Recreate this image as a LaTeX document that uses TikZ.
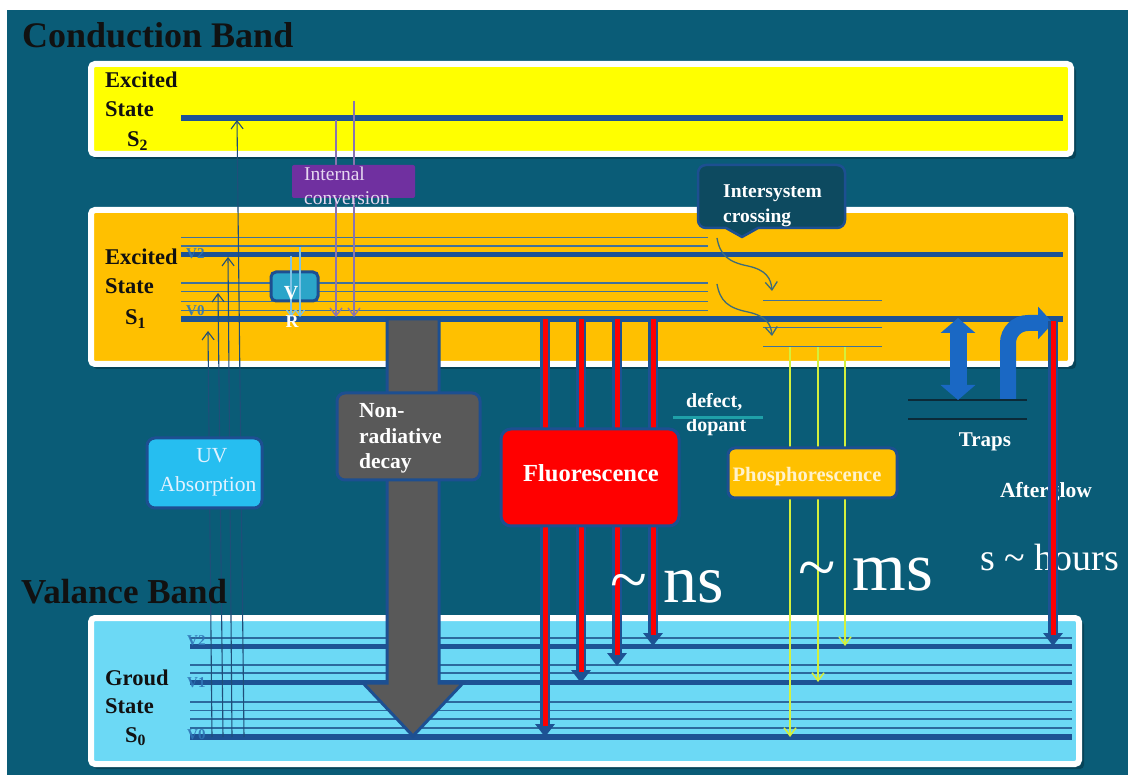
\documentclass[tikz,border=0pt]{standalone}
\usepackage{fontspec}
\setmainfont{Liberation Serif}
\usetikzlibrary{arrows.meta}
\definecolor{bg}{HTML}{0A5C77}
\definecolor{yel}{HTML}{FFFF00}
\definecolor{org}{HTML}{FFC000}
\definecolor{cyn}{HTML}{6CD9F5}
\definecolor{lvlc}{HTML}{1D5294}
\definecolor{subAc}{HTML}{41729A}
\definecolor{subBc}{HTML}{2C6A9E}
\definecolor{bordc}{HTML}{1D4F91}
\definecolor{greyc}{HTML}{595959}
\definecolor{uvc}{HTML}{1F4E79}
\definecolor{icc}{HTML}{8A74B0}
\definecolor{vrc}{HTML}{7EC3E6}
\definecolor{iscc}{HTML}{3F6C78}
\definecolor{phc}{HTML}{D4F03C}
\definecolor{trapc}{HTML}{1A68C4}
\definecolor{lablue}{HTML}{2E75B6}
\definecolor{purp}{HTML}{7030A0}
\definecolor{isbox}{HTML}{0D4A60}
\definecolor{uvbox}{HTML}{26BEF0}
\definecolor{vrbox}{HTML}{2BA5C9}
\definecolor{dtl}{HTML}{1FA0A8}
\definecolor{trline}{HTML}{0B2A38}
\definecolor{dark}{HTML}{111111}
\definecolor{lav}{HTML}{E6D8F0}
\definecolor{uvtxt}{HTML}{E2F2FF}
\definecolor{cream}{HTML}{FFF2CC}
\newcommand\myfs[1]{\fontsize{#1}{#1}\selectfont}
\begin{document}
\begin{tikzpicture}[x=1pt,y=-1pt,
  band/.style={draw=white,line width=6pt,rounded corners=4pt},
  shadow/.style={fill=black,opacity=0.25,rounded corners=4pt},
  lvl/.style={draw=lvlc,line width=5.5pt},
  subA/.style={draw=subAc,line width=1.6pt},
  subB/.style={draw=subBc,line width=1.6pt},
  barb/.style={-{Straight Barb[length=8pt,width=12pt]}},
  uvarrow/.style={barb,draw=uvc,line width=1.1pt},
  icarrow/.style={barb,draw=icc,line width=1.3pt},
  vrarrow/.style={-{Straight Barb[length=6pt,width=9pt]},draw=vrc,line width=1.3pt},
  iscarrow/.style={barb,draw=iscc,line width=1.3pt},
  pharrow/.style={barb,draw=phc,line width=1.5pt},
  redout/.style={draw=lvlc,line width=10pt,-{Triangle[width=19pt,length=13pt]}},
  redin/.style={draw=red,line width=5pt,shorten >=11pt},
  boxnode/.style={draw=bordc,line width=3pt,rounded corners=8pt,inner sep=0pt},
  lab/.style={anchor=base west,inner sep=0pt},
  labc/.style={anchor=base,inner sep=0pt},
  vlab/.style={lab,text=lablue,font=\bfseries\myfs{15},opacity=0.9}
]
\useasboundingbox (0,0) rectangle (1128,775);
\fill[white] (0,0) rectangle (1128,775);
\fill[bg] (7,10) rectangle (1128,775);

% bands
\fill[shadow] (93,67) rectangle (1076,159);
\draw[band,fill=yel] (91,64) rectangle (1071,154);
\fill[shadow] (93,213) rectangle (1076,369);
\draw[band,fill=org] (91,210) rectangle (1071,364);
\fill[shadow] (93,621) rectangle (1084,769);
\draw[band,fill=cyn] (91,618) rectangle (1079,764);

% S2 level
\draw[lvl] (181,118) -- (1063,118);
% S1 levels
\foreach \y in {237.5,246,283.3,291.7,301.7,310.5} \draw[subA] (181,\y) -- (708,\y);
\draw[lvl] (181,254.5) -- (1063,254.5);
\draw[lvl] (181,319) -- (1063,319);
% triplet levels
\foreach \y in {300.7,327.7,346.7} \draw[subA] (763,\y) -- (882,\y);
% S0 levels
\foreach \y in {637.7,665,673,701.7,710.3,719,728} \draw[subB] (190,\y) -- (1072,\y);
\foreach \y in {646.5,682.7,737} \draw[lvl] (190,\y) -- (1072,\y);

% vibrational labels
\node[vlab] (v2a) at (186,259) {V2};
\node[vlab] (v0a) at (186,316) {V0};
\node[vlab] (v2b) at (187,645) {V2};
\node[vlab] (v1b) at (187,687) {V1};
\node[vlab] (v0b) at (187,739) {V0};

% state labels
\begin{scope}[every node/.style={lab,text=dark,font=\bfseries\myfs{22.5}}]
\node (s2a) at (105,88) {Excited};
\node (s2b) at (105,117) {State};
\node (s2c) at (127,147) {S\textsubscript{2}};
\node (s1a) at (105,265) {Excited};
\node (s1b) at (105,294) {State};
\node (s1c) at (125,325) {S\textsubscript{1}};
\node (s0a) at (105,685) {Groud};
\node (s0b) at (105,713) {State};
\node (s0c) at (125,742) {S\textsubscript{0}};
\end{scope}

% coordinates
\coordinate (uv1s) at (212,737); \coordinate (uv1e) at (208,331);
\coordinate (uv2s) at (223,737); \coordinate (uv2e) at (218,293);
\coordinate (uv3s) at (232,737); \coordinate (uv3e) at (228,257);
\coordinate (uv4s) at (244,737); \coordinate (uv4e) at (237,120);
\coordinate (ic1s) at (336,120); \coordinate (ic1e) at (336,317);
\coordinate (ic2s) at (354,101); \coordinate (ic2e) at (354,317);
\coordinate (vr1s) at (291,256); \coordinate (vr1e) at (291,317);
\coordinate (vr2s) at (300,247); \coordinate (vr2e) at (300,317);
\coordinate (is1s) at (717,238); \coordinate (is1e) at (772,291);
\coordinate (is2s) at (717,284); \coordinate (is2e) at (772,336);
\coordinate (ph1s) at (790,347); \coordinate (ph1e) at (790,737);
\coordinate (ph2s) at (818,347); \coordinate (ph2e) at (818,682);
\coordinate (ph3s) at (845,347); \coordinate (ph3e) at (845,646);
\coordinate (fl1s) at (545,319); \coordinate (fl1e) at (545,737);
\coordinate (fl2s) at (581,319); \coordinate (fl2e) at (581,683);
\coordinate (fl3s) at (617,319); \coordinate (fl3e) at (617,666);
\coordinate (fl4s) at (653,319); \coordinate (fl4e) at (653,646);
\coordinate (ags) at (1053,321); \coordinate (age) at (1053,646);

% non-radiative big arrow
\draw[draw=bordc,line width=3pt,fill=greyc,line join=miter]
  (387,319) -- (439,319) -- (439,683) -- (463,683) -- (413,736) -- (363,683) -- (387,683) -- cycle;

% UV absorption arrows
\draw[uvarrow] (uv1s) -- (uv1e);
\draw[uvarrow] (uv2s) -- (uv2e);
\draw[uvarrow] (uv3s) -- (uv3e);
\draw[uvarrow] (uv4s) -- (uv4e);

% internal conversion arrows
\draw[icarrow] (ic1s) -- (ic1e);
\draw[icarrow] (ic2s) -- (ic2e);

% VR box and arrows
\node[boxnode,fill=vrbox,rounded corners=5pt,minimum width=47pt,minimum height=29pt] (vrb) at (294.5,286.5) {};
\draw[vrarrow] (vr1s) -- (vr1e);
\draw[vrarrow] (vr2s) -- (vr2e);
\node[labc,text=white,font=\bfseries\myfs{20}] (vtx) at (291,300) {V};
\node[labc,text=white,font=\bfseries\myfs{18}] (rtx) at (292,328) {R};

% internal conversion box
\node[fill=purp,rounded corners=2pt,minimum width=123pt,minimum height=33pt,inner sep=0pt] (icb) at (353.5,181.5) {};
\node[lab,text=lav,font=\myfs{19.5}] (ict1) at (304,181) {Internal};
\node[lab,text=lav,font=\myfs{19.5}] (ict2) at (304,205) {conversion};

% ISC arrows
\draw[iscarrow] (is1s) .. controls (720,255) and (728,262) .. (748,266) .. controls (766,270) and (771,278) .. (is1e);
\draw[iscarrow] (is2s) .. controls (720,301) and (728,308) .. (748,312) .. controls (766,316) and (771,324) .. (is2e);

% ISC callout
\draw[draw=bordc,line width=2.5pt,fill=isbox,line join=round]
  (706,165) -- (837,165) to[out=0,in=90] (845,173) -- (845,220) to[out=-90,in=0] (837,228)
  -- (758,228) -- (742,237) -- (726,228) -- (706,228) to[out=180,in=-90] (698,220)
  -- (698,173) to[out=90,in=180] (706,165) -- cycle;
\node[lab,text=white,font=\bfseries\myfs{19.5}] (ist1) at (723,198) {Intersystem};
\node[lab,text=white,font=\bfseries\myfs{19.5}] (ist2) at (723,223) {crossing};

% phosphorescence arrows
\draw[pharrow] (ph1s) -- (ph1e);
\draw[pharrow] (ph2s) -- (ph2e);
\draw[pharrow] (ph3s) -- (ph3e);

% fluorescence arrows
\foreach \i in {1,2,3,4} {
  \draw[redout] (fl\i s) -- (fl\i e);
  \draw[redin] (fl\i s) -- (fl\i e);
}

% traps
\draw[draw=trline,line width=2pt] (908,400) -- (1027,400);
\draw[draw=trline,line width=2pt] (908,419) -- (1027,419);
\coordinate (tda) at (958,318); \coordinate (tdb) at (958,400);
\draw[draw=trapc,line width=17pt,{Triangle[width=34pt,length=15pt]}-{Triangle[width=34pt,length=15pt]}] (tda) -- (tdb);
\coordinate (tua) at (1008,399); \coordinate (tub) at (1053,323);
\draw[draw=trapc,line width=16pt,rounded corners=20pt,-{Triangle[width=32pt,length=15pt]}] (tua) -- (1008,323) -- (tub);

% titles
\node[lab,text=dark,font=\bfseries\myfs{36}] (cbt) at (22,48) {Conduction Band};
\node[lab,text=dark,font=\bfseries\myfs{35}] (vbt) at (21,603) {Valance Band};

% text labels on background
\node[lab,text=white,font=\bfseries\myfs{20}] (dft1) at (686,408) {defect,};
\node[lab,text=white,font=\bfseries\myfs{20}] (dft2) at (686,432) {dopant};
\draw[draw=dtl,line width=3pt] (673,418) -- (763,418);
\node[labc,text=white,font=\bfseries\myfs{21}] (trp) at (985,447) {Traps};
\node[labc,text=white,font=\bfseries\myfs{21.5}] (agl) at (1046,498) {Afterglow};
\node[lab,text=white,font=\myfs{38}] (hrs) at (980,570) {s \char`\~{} hours};
\node[lab,text=white,font=\myfs{68}] (nst) at (610,602) {\char`\~{} ns};
\node[lab,text=white,font=\myfs{69}] (mst) at (798,590) {\char`\~{} ms};

% afterglow arrow
\draw[redout] (ags) -- (age);
\draw[redin] (ags) -- (age);

% process boxes
\node[boxnode,fill=uvbox,minimum width=115pt,minimum height=70pt] (uvb) at (204.5,473) {};
\node[labc,text=uvtxt,font=\myfs{21.5}] (uvt1) at (212,463) {UV};
\node[labc,text=uvtxt,font=\myfs{21.5}] (uvt2) at (208,492) {Absorption};

\node[boxnode,fill=greyc,minimum width=143pt,minimum height=87pt] (nrb) at (408.5,436.5) {};
\node[lab,text=white,font=\bfseries\myfs{21.5}] (nrt1) at (359,418) {Non-};
\node[lab,text=white,font=\bfseries\myfs{21.5}] (nrt2) at (359,444) {radiative};
\node[lab,text=white,font=\bfseries\myfs{21.5}] (nrt3) at (359,469) {decay};

\node[boxnode,fill=red,rounded corners=10pt,minimum width=178pt,minimum height=97pt] (flb) at (590,477.5) {};
\node[labc,text=white,font=\bfseries\myfs{24.5}] (flt) at (591,482) {Fluorescence};

\node[boxnode,fill=org,rounded corners=7pt,minimum width=169pt,minimum height=50pt] (phb) at (812.5,473) {};
\node[labc,text=cream,font=\bfseries\myfs{20.5}] (pht) at (807,482) {Phosphorescence};
\end{tikzpicture}
\end{document}
